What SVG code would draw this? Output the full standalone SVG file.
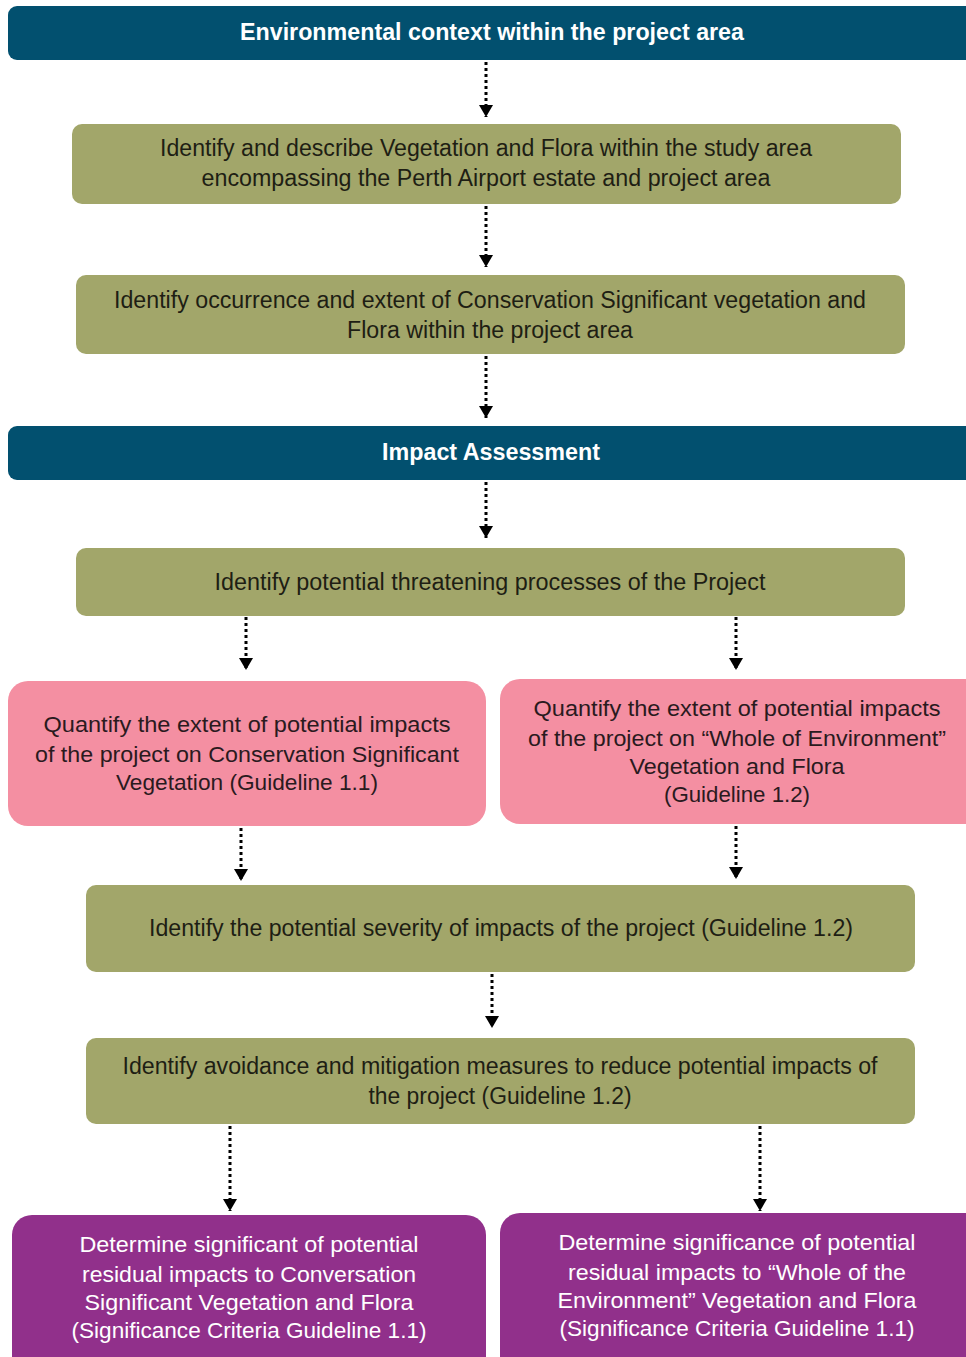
<svg xmlns="http://www.w3.org/2000/svg" width="966" height="1357" viewBox="0 0 966 1357">
<style>
.hdr{fill:#02506F}
.olv{fill:#A2A66A}
.pnk{fill:#F48FA2}
.pur{fill:#91308B}
text{font-family:"Liberation Sans",Arial,sans-serif;text-anchor:middle}
.ht{fill:#fff;font-size:23px;font-weight:bold}
.ot{fill:#1e1e14;font-size:23px}
.pt{fill:#2a1a1e;font-size:22px}
.ut{fill:#fff;font-size:22px}
.con{stroke:#000;stroke-width:3;stroke-dasharray:3,3;fill:none;marker-end:url(#ah)}
</style>
<defs>
<marker id="ah" markerWidth="13" markerHeight="14" refX="12" refY="7" orient="auto" markerUnits="userSpaceOnUse" viewBox="0 0 13 14">
<path d="M0,0 L12,7 L0,14 Z" fill="#000"/>
</marker>
</defs>
<g id="connectors">
<path class="con" d="M486,62 V117"/>
<path class="con" d="M486,206 V267"/>
<path class="con" d="M486,356 V418"/>
<path class="con" d="M486,482 V538"/>
<path class="con" d="M246,617 V670"/>
<path class="con" d="M736,617 V670"/>
<path class="con" d="M241,828 V881"/>
<path class="con" d="M736,826 V879"/>
<path class="con" d="M492,974 V1028"/>
<path class="con" d="M230,1126 V1211"/>
<path class="con" d="M760,1126 V1211"/>
</g>
<g id="n1">
<rect class="hdr" x="8" y="6" width="980" height="54" rx="9"/>
<text class="ht" x="492" y="40" textLength="504" lengthAdjust="spacingAndGlyphs">Environmental context within the project area</text>
</g>
<g id="n2">
<rect class="olv" x="72" y="124" width="829" height="80" rx="10"/>
<text class="ot" x="486" y="156" textLength="652" lengthAdjust="spacingAndGlyphs">Identify and describe Vegetation and Flora within the study area</text>
<text class="ot" x="486" y="186" textLength="569" lengthAdjust="spacingAndGlyphs">encompassing the Perth Airport estate and project area</text>
</g>
<g id="n3">
<rect class="olv" x="76" y="275" width="829" height="79" rx="10"/>
<text class="ot" x="490" y="308" textLength="752" lengthAdjust="spacingAndGlyphs">Identify occurrence and extent of Conservation Significant vegetation and</text>
<text class="ot" x="490" y="338" textLength="286" lengthAdjust="spacingAndGlyphs">Flora within the project area</text>
</g>
<g id="n4">
<rect class="hdr" x="8" y="426" width="980" height="54" rx="9"/>
<text class="ht" x="491" y="460" textLength="218" lengthAdjust="spacingAndGlyphs">Impact Assessment</text>
</g>
<g id="n5">
<rect class="olv" x="76" y="548" width="829" height="68" rx="10"/>
<text class="ot" x="490" y="590" textLength="551" lengthAdjust="spacingAndGlyphs">Identify potential threatening processes of the Project</text>
</g>
<g id="n6">
<rect class="pnk" x="8" y="681" width="478" height="145" rx="20"/>
<text class="pt" x="247" y="732" textLength="407" lengthAdjust="spacingAndGlyphs">Quantify the extent of potential impacts</text>
<text class="pt" x="247" y="762" textLength="424" lengthAdjust="spacingAndGlyphs">of the project on Conservation Significant</text>
<text class="pt" x="247" y="790" textLength="262" lengthAdjust="spacingAndGlyphs">Vegetation (Guideline 1.1)</text>
</g>
<g id="n7">
<rect class="pnk" x="500" y="679" width="490" height="145" rx="20"/>
<text class="pt" x="737" y="716" textLength="407" lengthAdjust="spacingAndGlyphs">Quantify the extent of potential impacts</text>
<text class="pt" x="737" y="746" textLength="418" lengthAdjust="spacingAndGlyphs">of the project on “Whole of Environment”</text>
<text class="pt" x="737" y="774" textLength="215" lengthAdjust="spacingAndGlyphs">Vegetation and Flora</text>
<text class="pt" x="737" y="802" textLength="146" lengthAdjust="spacingAndGlyphs">(Guideline 1.2)</text>
</g>
<g id="n8">
<rect class="olv" x="86" y="885" width="829" height="87" rx="10"/>
<text class="ot" x="501" y="936" textLength="704" lengthAdjust="spacingAndGlyphs">Identify the potential severity of impacts of the project (Guideline 1.2)</text>
</g>
<g id="n9">
<rect class="olv" x="86" y="1038" width="829" height="86" rx="10"/>
<text class="ot" x="500" y="1074" textLength="755" lengthAdjust="spacingAndGlyphs">Identify avoidance and mitigation measures to reduce potential impacts of</text>
<text class="ot" x="500" y="1104" textLength="263" lengthAdjust="spacingAndGlyphs">the project (Guideline 1.2)</text>
</g>
<g id="n10">
<rect class="pur" x="12" y="1215" width="474" height="170" rx="20"/>
<text class="ut" x="249" y="1252" textLength="339" lengthAdjust="spacingAndGlyphs">Determine significant of potential</text>
<text class="ut" x="249" y="1282" textLength="334" lengthAdjust="spacingAndGlyphs">residual impacts to Conversation</text>
<text class="ut" x="249" y="1310" textLength="329" lengthAdjust="spacingAndGlyphs">Significant Vegetation and Flora</text>
<text class="ut" x="249" y="1338" textLength="355" lengthAdjust="spacingAndGlyphs">(Significance Criteria Guideline 1.1)</text>
</g>
<g id="n11">
<rect class="pur" x="500" y="1213" width="490" height="170" rx="20"/>
<text class="ut" x="737" y="1250" textLength="357" lengthAdjust="spacingAndGlyphs">Determine significance of potential</text>
<text class="ut" x="737" y="1280" textLength="338" lengthAdjust="spacingAndGlyphs">residual impacts to “Whole of the</text>
<text class="ut" x="737" y="1308" textLength="359" lengthAdjust="spacingAndGlyphs">Environment” Vegetation and Flora</text>
<text class="ut" x="737" y="1336" textLength="355" lengthAdjust="spacingAndGlyphs">(Significance Criteria Guideline 1.1)</text>
</g>
</svg>
